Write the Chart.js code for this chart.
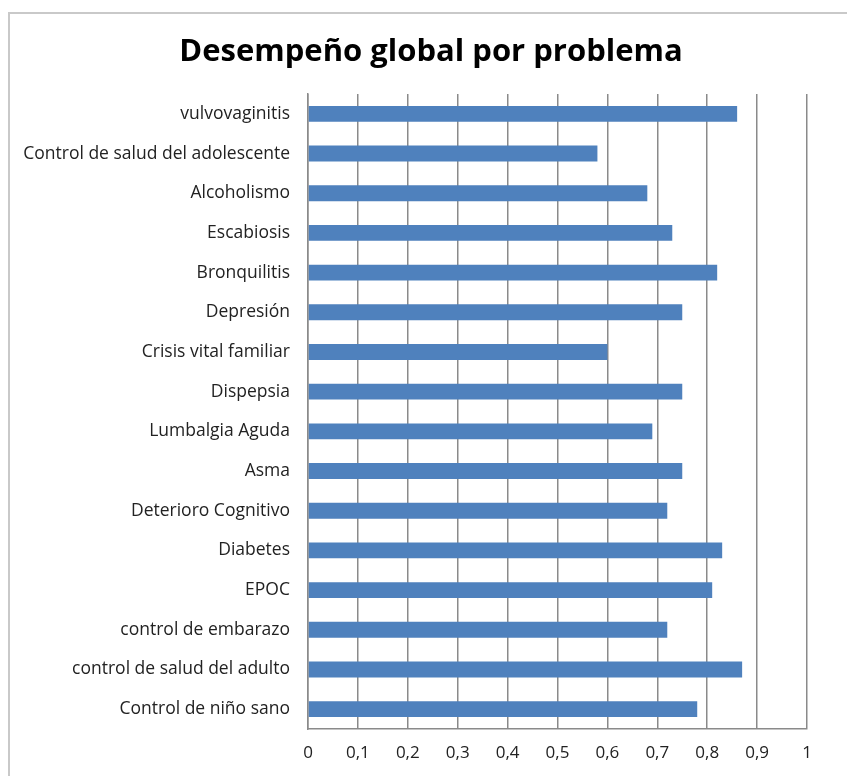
<!DOCTYPE html>
<html>
<head>
<meta charset="utf-8">
<script src="https://cdn.jsdelivr.net/npm/chart.js@4"></script>
<style>
  html, body { margin: 0; padding: 0; background: #fff; }
  #frame {
    position: absolute; left: 8px; top: 12px;
    width: 900px; height: 900px;
    border: 2px solid #c9c9c9; box-sizing: border-box;
  }
  #wrap { position: absolute; left: 0; top: 0; width: 847px; height: 776px; }
</style>
</head>
<body>
<div id="frame"></div>
<div id="wrap"><canvas id="grafico"></canvas></div>
<script>
const problemas = [
    'vulvovaginitis',
    'Control de salud del adolescente',
    'Alcoholismo',
    'Escabiosis',
    'Bronquilitis',
    'Depresión',
    'Crisis vital familiar',
    'Dispepsia',
    'Lumbalgia Aguda',
    'Asma',
    'Deterioro Cognitivo',
    'Diabetes',
    'EPOC',
    'control de embarazo',
    'control de salud del adulto',
    'Control de niño sano'
];
const desempeno = [0.86, 0.58, 0.68, 0.73, 0.82, 0.75, 0.60, 0.75, 0.69, 0.75, 0.72, 0.83, 0.81, 0.72, 0.87, 0.78];
const escalaMin = 0;
const escalaMax = 1;
const paso = 0.1;

// el titulo del original esta centrado sobre todo el recuadro, no sobre el grafico
const moverTitulo = {
    id: 'moverTitulo',
    afterLayout(chart) {
        if (chart.titleBlock) chart.titleBlock.left = 55;
    }
};

document.addEventListener('DOMContentLoaded', () => {
    const ctx = document.getElementById('grafico').getContext('2d');
    const fuente = "'Open Sans', sans-serif";

    new Chart(ctx, {
        type: 'bar',
        data: {
            labels: problemas,
            datasets: [{
                data: desempeno,
                backgroundColor: '#4f81bd',
                borderWidth: 0,
                barPercentage: 0.8,
                categoryPercentage: 0.5
            }]
        },
        options: {
            indexAxis: 'y',
            responsive: true,
            maintainAspectRatio: false,
            animation: false,
            layout: { padding: { top: 0, right: 40, bottom: 0, left: 0 } },
            plugins: {
                legend: { display: false },
                tooltip: { enabled: false },
                title: {
                    display: true,
                    text: 'Desempeño global por problema',
                    color: '#000',
                    font: { family: fuente, size: 31, weight: 'bold' },
                    padding: { top: 34, bottom: 22.8 }
                }
            },
            scales: {
                x: {
                    min: escalaMin,
                    max: escalaMax,
                    ticks: {
                        stepSize: paso,
                        color: '#222',
                        padding: 14,
                        font: { family: fuente, size: 17 },
                        callback: v => String(Number(v.toFixed(1))).replace('.', ',')
                    },
                    grid: { color: '#8a8a8a', lineWidth: 1.5, drawTicks: false },
                    border: { color: '#8a8a8a', width: 1.5 },
                    afterFit: s => { s.height = 47; }
                },
                y: {
                    ticks: {
                        color: '#222',
                        padding: 18,
                        font: { family: fuente, size: 17.5 }
                    },
                    grid: { display: false, drawTicks: false },
                    border: { color: '#8a8a8a', width: 1.5 },
                    afterFit: s => { s.width = 308; }
                }
            }
        },
        plugins: [moverTitulo]
    });
});
</script>
</body>
</html>
